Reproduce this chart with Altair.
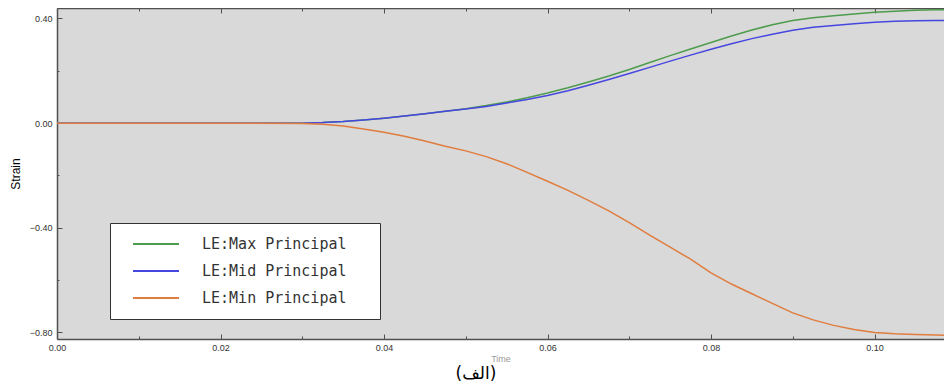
import altair as alt
import pandas as pd

# ---- data ----
time = [0.0, 0.01, 0.02, 0.03, 0.0325, 0.035, 0.0375, 0.04, 0.0425, 0.045, 0.0475,
        0.05, 0.0525, 0.055, 0.0575, 0.06, 0.0625, 0.065, 0.0675, 0.07, 0.0725,
        0.075, 0.0775, 0.08, 0.0825, 0.085, 0.0875, 0.09, 0.0925, 0.095, 0.0975,
        0.10, 0.1025, 0.105, 0.1075, 0.1095]
le_max = [0.0, 0.0, 0.0, 0.0, 0.002, 0.006, 0.012, 0.019, 0.027, 0.036, 0.045,
          0.055, 0.067, 0.081, 0.097, 0.115, 0.135, 0.157, 0.18, 0.205, 0.232,
          0.258, 0.283, 0.308, 0.333, 0.356, 0.376, 0.392, 0.403, 0.41, 0.417,
          0.424, 0.428, 0.431, 0.433, 0.434]
le_mid = [0.0, 0.0, 0.0, 0.0, 0.002, 0.006, 0.012, 0.019, 0.027, 0.036, 0.045,
          0.054, 0.064, 0.077, 0.09, 0.106, 0.124, 0.145, 0.167, 0.19, 0.213,
          0.237, 0.26, 0.282, 0.303, 0.323, 0.34, 0.355, 0.366, 0.373, 0.38,
          0.386, 0.389, 0.391, 0.392, 0.393]
le_min = [0.0, 0.0, 0.0, -0.001, -0.004, -0.011, -0.022, -0.035, -0.05, -0.068, -0.088,
          -0.106, -0.128, -0.155, -0.188, -0.222, -0.257, -0.295, -0.335, -0.38, -0.428,
          -0.474, -0.52, -0.572, -0.615, -0.652, -0.689, -0.725, -0.752, -0.773, -0.789,
          -0.80, -0.805, -0.808, -0.81, -0.811]
series_names = ["LE:Max Principal", "LE:Mid Principal", "LE:Min Principal"]
series_colors = ["#4c9c4c", "#4646e0", "#e07c3e"]
x_major = [0.0, 0.02, 0.04, 0.06, 0.08, 0.10]
x_minor = [0.01, 0.03, 0.05, 0.07, 0.09]
y_major = [-0.8, -0.4, 0.0, 0.4]
y_minor = [-0.6, -0.2, 0.2]
caption = "(الف)"

rows = []
for name, vals in zip(series_names, [le_max, le_mid, le_min]):
    for t, v in zip(time, vals):
        rows.append({"Time": t, "Strain": v, "series": name})
df = pd.DataFrame(rows)

W, H = 887, 331
AX = "#505050"

xs = alt.Scale(domain=[0, 0.1085], nice=False, zero=False)
ys = alt.Scale(domain=[-0.825, 0.44], nice=False, zero=False)

base = alt.Chart(df)

lines = base.mark_line(strokeWidth=1.5, clip=True).encode(
    x=alt.X("Time:Q", scale=xs, axis=alt.Axis(
        orient="bottom", values=x_major, format=".2f", ticks=False, grid=False,
        domain=True, domainColor=AX, domainWidth=1.5, labelFlush=False,
        labelFont="Liberation Sans", labelFontSize=9, labelColor="#333",
        labelPadding=4, title="Time", titleFont="Liberation Sans",
        titleFontSize=9, titleFontWeight="normal", titleColor="#9a9a9a",
        titlePadding=2)),
    y=alt.Y("Strain:Q", scale=ys, axis=alt.Axis(
        orient="left", values=y_major, format=".2f", ticks=False, grid=False,
        domain=True, domainColor=AX, domainWidth=1.5, labelFlush=False,
        labelFont="Liberation Sans", labelFontSize=9, labelColor="#333",
        labelPadding=5, title="Strain", titleFont="Liberation Sans",
        titleFontSize=12, titleFontWeight="normal", titleColor="#000",
        titlePadding=7)),
    color=alt.Color("series:N", sort=series_names,
                    scale=alt.Scale(domain=series_names, range=series_colors),
                    legend=alt.Legend(
                        title=None, orient="none", legendX=53, legendY=215,
                        symbolType="stroke", symbolSize=2116, symbolStrokeWidth=2,
                        clipHeight=20, rowPadding=7, padding=11, symbolOffset=11,
                        labelOffset=22, labelFont="DejaVu Sans Mono", labelFontSize=15,
                        labelColor="#333", fillColor="#ffffff", strokeColor="#333",
                        labelLimit=400,
                        labelExpr="datum.label + '\u2800\u2800'")),
)


def tick_layer(xaxis, yaxis):
    return base.mark_point(opacity=0, size=1).encode(
        x=alt.X("Time:Q", scale=xs, axis=xaxis),
        y=alt.Y("Strain:Q", scale=ys, axis=yaxis),
    )


def tick_axis(orient, values, size, offset, domain=False):
    return alt.Axis(orient=orient, values=values, labels=False, title=None,
                    grid=False, domain=domain, domainColor=AX, domainWidth=1.5,
                    ticks=True, tickSize=size, tickColor=AX, tickWidth=1,
                    offset=offset)

layers = [
    lines,
    tick_layer(tick_axis("top", x_major, 5, -H), tick_axis("right", y_major, 5, -W)),
    tick_layer(tick_axis("top", x_minor, 3, -H), tick_axis("right", y_minor, 2, -W)),
    tick_layer(tick_axis("bottom", x_major, 5, -H, domain=True), None),
    tick_layer(tick_axis("bottom", x_minor, 3, -H), None),
]

cap = alt.Chart(pd.DataFrame({"t": [caption]})).mark_text(
    font="DejaVu Sans", fontSize=17, color="#000", align="center", baseline="alphabetic"
).encode(text="t:N", x=alt.value(419), y=alt.value(371))

chart = alt.layer(*layers, cap).resolve_axis(x="independent", y="independent").properties(
    width=W, height=H,
    background="#ffffff",
    autosize=alt.AutoSizeParams(type="none"),
    padding={"left": 49, "top": 0, "right": 0, "bottom": 45},
).configure_view(fill="#d9d9d9", stroke=None)

chart.save("out.html", embed_options={"renderer": "svg", "actions": False})
